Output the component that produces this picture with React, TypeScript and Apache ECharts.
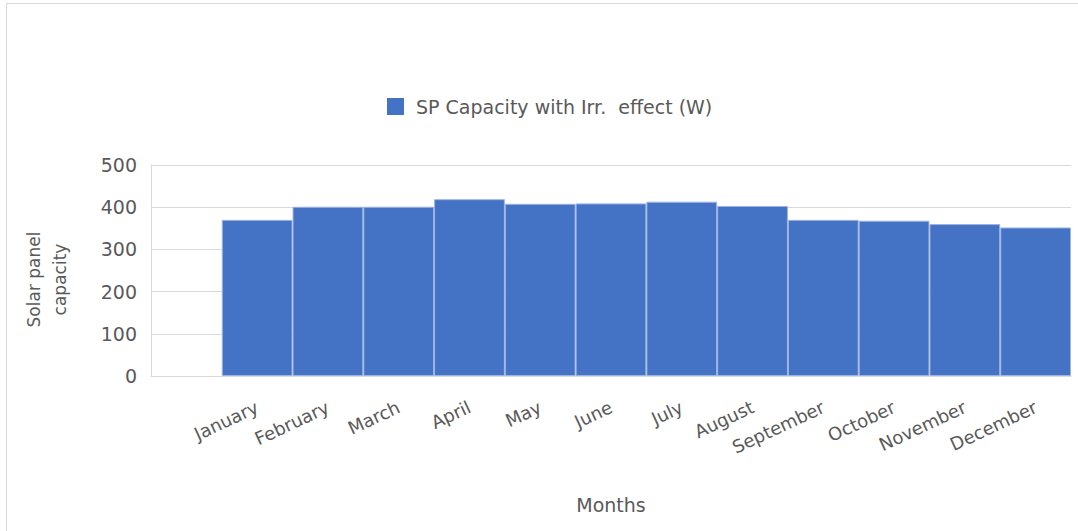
import React, { useEffect, useRef } from "react";
import * as echarts from "echarts";

const categories = ["", "January", "February", "March", "April", "May", "June", "July", "August", "September", "October", "November", "December"];
const capacity = [null, 370, 401, 401, 419, 408, 409, 413, 403, 370, 368, 360, 352];
const seriesName = "SP Capacity with Irr.  effect (W)";
const yTitle = "Solar panel\ncapacity";
const xTitle = "Months";

const FONT = "'DejaVu Sans', 'Noto Sans', sans-serif";

export default function App() {
  const ref = useRef<HTMLDivElement>(null);
  useEffect(() => {
    if (!ref.current) return;
    const chart = echarts.init(ref.current, null, { renderer: "svg" });
    chart.setOption({
      animation: false,
      backgroundColor: "#ffffff",
      textStyle: { fontFamily: FONT },
      graphic: [
        { type: "line", shape: { x1: 6, y1: 3.5, x2: 1078, y2: 3.5 }, style: { stroke: "#d9d9d9", lineWidth: 1 } },
        { type: "line", shape: { x1: 6.5, y1: 3, x2: 6.5, y2: 531 }, style: { stroke: "#d9d9d9", lineWidth: 1 } },
      ],
      legend: {
        left: 382,
        top: 92,
        itemWidth: 17,
        itemHeight: 17,
        itemGap: 10,
        icon: "rect",
        itemStyle: { borderWidth: 0 },
        textStyle: { fontSize: 19, color: "#595959", fontFamily: FONT, padding: [0, 0, 0, 7] },
        data: [seriesName],
      },
      grid: { left: 151, right: 7, top: 165, bottom: 155, containLabel: false, outerBoundsMode: "none" },
      xAxis: {
        type: "category",
        data: categories,
        boundaryGap: true,
        name: xTitle,
        nameLocation: "middle",
        nameGap: 119,
        nameTextStyle: { fontSize: 19, color: "#595959", fontFamily: FONT },
        axisLine: { show: true, lineStyle: { color: "#d9d9d9", width: 1 } },
        axisTick: { show: false },
        axisLabel: { interval: 0, rotate: 25, margin: 30, fontSize: 18, color: "#595959", fontFamily: FONT },
      },
      yAxis: {
        type: "value",
        min: 0,
        max: 500,
        interval: 100,
        name: yTitle,
        nameLocation: "middle",
        nameGap: 78,
        nameRotate: 90,
        nameTextStyle: { fontSize: 17, color: "#595959", fontFamily: FONT, lineHeight: 26, padding: [0, 18, 0, 0] },
        axisLine: { show: true, lineStyle: { color: "#d9d9d9", width: 1 } },
        axisTick: { show: false },
        axisLabel: { margin: 14, fontSize: 19, color: "#595959", fontFamily: FONT },
        splitLine: { show: true, lineStyle: { color: "#d9d9d9", width: 1 } },
      },
      series: [
        {
          name: seriesName,
          type: "bar",
          data: capacity,
          barCategoryGap: "0%",
          itemStyle: { color: "#4472c4", borderColor: "#9db4e0", borderWidth: 1 },
        },
      ],
    });
    return () => chart.dispose();
  }, []);
  return <div ref={ref} style={{ position: "fixed", left: 0, top: 0, width: 1078, height: 531 }} />;
}
